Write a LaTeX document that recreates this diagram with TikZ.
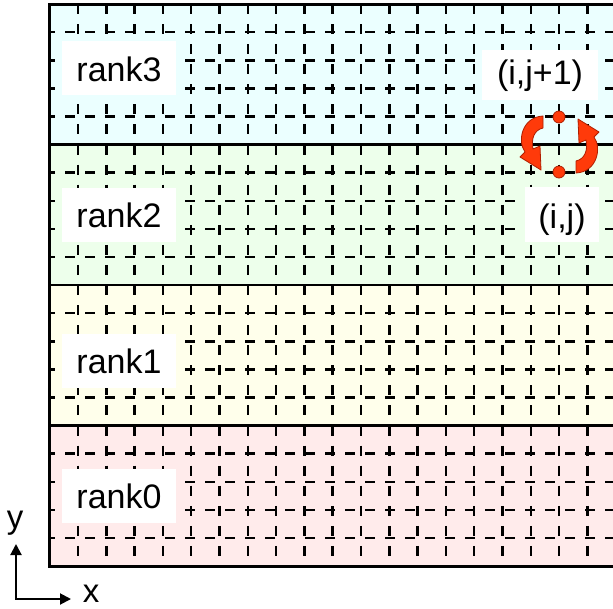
\documentclass[tikz,border=0pt]{standalone}
\usepackage{fontspec}
\setmainfont{Liberation Sans}
\usetikzlibrary{arrows.meta}
\definecolor{bandthree}{HTML}{EBFFFF}
\definecolor{bandtwo}{HTML}{EDFFEB}
\definecolor{bandone}{HTML}{FFFFEB}
\definecolor{bandzero}{HTML}{FFEBEB}
\definecolor{arrred}{HTML}{FF3A0A}
\definecolor{arrdark}{HTML}{B01E00}
\newcommand{\RotArrowPath}{(543,116) -- (543,128) .. controls (534,130) and (531,139) .. (533,149) -- (540,146) -- (541,170) -- (520,157) -- (525,152) .. controls (517,141) and (522,117) .. (543,116) -- cycle}
\begin{document}
\begin{tikzpicture}[x=1pt,y=-1pt,
  gridv/.style={line width=2.5pt, dash pattern=on 10pt off 10.07pt},
  gridh/.style={line width=2.5pt, dash pattern=on 10pt off 10pt, dash phase=4pt},
  lab/.style={fill=white, inner sep=0pt, minimum width=114pt, minimum height=54pt,
    font=\fontsize{34}{40}\selectfont, text height=26pt, text depth=0pt},
  dotnode/.style={circle, inner sep=0pt, minimum size=12pt, fill=arrred, draw=arrdark, line width=0.8pt},
  rotarrow/.style={fill=arrred, draw=arrdark, line width=0.8pt, line join=round},
  axis/.style={line width=2pt, {Triangle[length=11pt,width=11pt]}-{Triangle[length=11pt,width=11pt]}},
  axlab/.style={font=\fontsize{33}{40}\selectfont, inner sep=0pt}]
\useasboundingbox (0,0) rectangle (613,608);
% bands
\fill[bandthree] (49,4) rectangle (613,144.5);
\fill[bandtwo] (49,144.5) rectangle (613,285);
\fill[bandone] (49,285) rectangle (613,425.5);
\fill[bandzero] (49,425.5) rectangle (613,566);
% dashed grid
\foreach \ta/\tb in {4/144.5,144.5/285,285/425.5,425.5/566}{
  \foreach \k in {0,...,18}{\draw[gridv] (78+\k*28.3,\ta) -- (78+\k*28.3,\tb);}
  \foreach \k in {1,...,4}{\draw[gridh] (49,\ta+\k*28.125) -- (613,\ta+\k*28.125);}
}
% band boundaries and frame
\draw[line width=2.6pt] (49,144.5) -- (613,144.5);
\draw[line width=2.6pt] (49,285) -- (613,285);
\draw[line width=2.6pt] (49,425.5) -- (613,425.5);
\draw[line width=3pt] (613,4) -- (49,4) -- (49,566) -- (613,566);
% labels
\node[lab] (r3) at (119,68) {rank3};
\node[lab] (r2) at (119,214.5) {rank2};
\node[lab] (r1) at (119,360.5) {rank1};
\node[lab] (r0) at (119,495.5) {rank0};
\node[lab, minimum width=116pt, minimum height=50pt, text height=25pt, text depth=7pt] (top) at (540,75) {(i,j+1)};
\node[lab, minimum width=74pt, minimum height=55pt, text height=34pt, text depth=7pt] (bot) at (562,214.5) {(i,j)};
% points
\node[dotnode] (pup) at (559,117) {};
\node[dotnode] (pdn) at (559,172) {};
% rotation arrows
\path[rotarrow] \RotArrowPath;
\begin{scope}[rotate around={180:(559.5,144.5)}]
\path[rotarrow] \RotArrowPath;
\end{scope}
% axes
\coordinate (o) at (16,599);
\coordinate (ay) at (16,544);
\coordinate (ax) at (71,599);
\draw[axis] (ay) -- (o) -- (ax);
\node[axlab] (ylab) at (15,523) {y};
\node[axlab] (xlab) at (91,594) {x};
\end{tikzpicture}
\end{document}
